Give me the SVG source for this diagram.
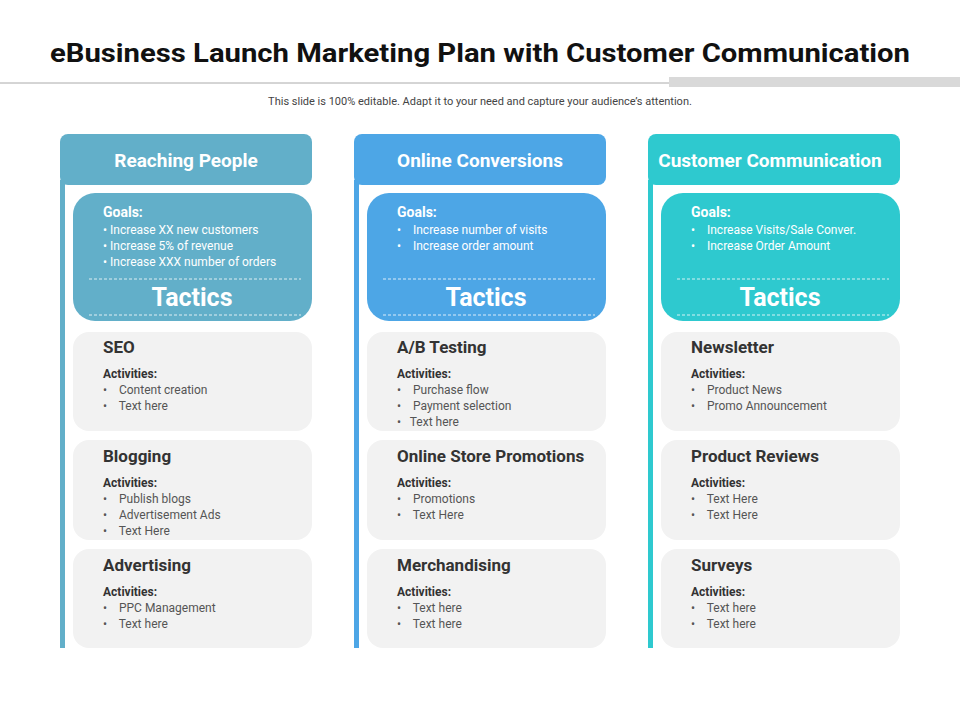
<svg xmlns="http://www.w3.org/2000/svg" width="960" height="720" viewBox="0 0 960 720">
<style>
text{white-space:pre}
.hd{font:bold 19px Roboto,sans-serif;fill:#fff;text-anchor:middle}
.gl{font:bold 14px Roboto,sans-serif;fill:#fff}
.gi{font:12px Roboto,sans-serif;fill:#fff}
.tc{font:bold 25px Roboto,sans-serif;fill:#fff;text-anchor:middle}
.ct{font:bold 17px Roboto,sans-serif;fill:#333}
.ca{font:bold 12px Roboto,sans-serif;fill:#333}
.ci{font:12px Roboto,sans-serif;fill:#555}
.card{fill:#f2f2f2}
.dash{stroke:#fff;stroke-width:0.8;stroke-dasharray:3 2}
</style>
<rect width="960" height="720" fill="#fff"/>
<text x="50" y="62" textLength="860" lengthAdjust="spacingAndGlyphs" style="font:bold 25px Roboto,sans-serif;fill:#111">eBusiness Launch Marketing Plan with Customer Communication</text>
<line x1="0" y1="83" x2="670" y2="83" stroke="#aaa" stroke-width="1"/>
<rect x="669" y="77" width="291" height="10" fill="#d9d9d9"/>
<text x="480" y="105" text-anchor="middle" style="font:11px Roboto,sans-serif;fill:#444">This slide is 100% editable. Adapt it to your need and capture your audience’s attention.</text>

<g id="col1">
<rect x="60" y="134" width="252" height="51" rx="8" fill="#62afc9"/>
<rect x="60" y="180" width="5" height="468" fill="#62afc9"/>
<text class="hd" x="186" y="167">Reaching People</text>
<rect x="73" y="193" width="239" height="128" rx="22" fill="#62afc9"/>
<text class="gl" x="103" y="217">Goals:</text>
<text class="gi" x="103" y="234">• Increase XX new customers</text>
<text class="gi" x="103" y="250">• Increase 5% of revenue</text>
<text class="gi" x="103" y="266">• Increase XXX number of orders</text>
<line class="dash" x1="89" y1="279" x2="301" y2="279"/>
<text class="tc" x="192" y="306">Tactics</text>
<line class="dash" x1="89" y1="315" x2="301" y2="315"/>
<rect class="card" x="73" y="332" width="239" height="99" rx="16"/>
<text class="ct" x="103" y="353">SEO</text><text class="ca" x="103" y="378">Activities:</text>
<text class="ci" x="103" y="394">•    Content creation</text><text class="ci" x="103" y="410">•    Text here</text>
<rect class="card" x="73" y="440" width="239" height="100" rx="16"/>
<text class="ct" x="103" y="462">Blogging</text><text class="ca" x="103" y="487">Activities:</text>
<text class="ci" x="103" y="503">•    Publish blogs</text><text class="ci" x="103" y="519">•    Advertisement Ads</text><text class="ci" x="103" y="535">•    Text Here</text>
<rect class="card" x="73" y="549" width="239" height="99" rx="16"/>
<text class="ct" x="103" y="571">Advertising</text><text class="ca" x="103" y="596">Activities:</text>
<text class="ci" x="103" y="612">•    PPC Management</text><text class="ci" x="103" y="628">•    Text here</text>
</g>

<g id="col2">
<rect x="354" y="134" width="252" height="51" rx="8" fill="#4da6e6"/>
<rect x="354" y="180" width="5" height="468" fill="#4da6e6"/>
<text class="hd" x="480" y="167">Online Conversions</text>
<rect x="367" y="193" width="239" height="128" rx="22" fill="#4da6e6"/>
<text class="gl" x="397" y="217">Goals:</text>
<text class="gi" x="397" y="234">•    Increase number of visits</text>
<text class="gi" x="397" y="250">•    Increase order amount</text>
<line class="dash" x1="383" y1="279" x2="595" y2="279"/>
<text class="tc" x="486" y="306">Tactics</text>
<line class="dash" x1="383" y1="315" x2="595" y2="315"/>
<rect class="card" x="367" y="332" width="239" height="99" rx="16"/>
<text class="ct" x="397" y="353">A/B Testing</text><text class="ca" x="397" y="378">Activities:</text>
<text class="ci" x="397" y="394">•    Purchase flow</text><text class="ci" x="397" y="410">•    Payment selection</text><text class="ci" x="397" y="426">•   Text here</text>
<rect class="card" x="367" y="440" width="239" height="100" rx="16"/>
<text class="ct" x="397" y="462">Online Store Promotions</text><text class="ca" x="397" y="487">Activities:</text>
<text class="ci" x="397" y="503">•    Promotions</text><text class="ci" x="397" y="519">•    Text Here</text>
<rect class="card" x="367" y="549" width="239" height="99" rx="16"/>
<text class="ct" x="397" y="571">Merchandising</text><text class="ca" x="397" y="596">Activities:</text>
<text class="ci" x="397" y="612">•    Text here</text><text class="ci" x="397" y="628">•    Text here</text>
</g>

<g id="col3">
<rect x="648" y="134" width="252" height="51" rx="8" fill="#2ec9cf"/>
<rect x="648" y="180" width="5" height="468" fill="#2ec9cf"/>
<text class="hd" x="770" y="167">Customer Communication</text>
<rect x="661" y="193" width="239" height="128" rx="22" fill="#2ec9cf"/>
<text class="gl" x="691" y="217">Goals:</text>
<text class="gi" x="691" y="234">•    Increase Visits/Sale Conver.</text>
<text class="gi" x="691" y="250">•    Increase Order Amount</text>
<line class="dash" x1="677" y1="279" x2="889" y2="279"/>
<text class="tc" x="780" y="306">Tactics</text>
<line class="dash" x1="677" y1="315" x2="889" y2="315"/>
<rect class="card" x="661" y="332" width="239" height="99" rx="16"/>
<text class="ct" x="691" y="353">Newsletter</text><text class="ca" x="691" y="378">Activities:</text>
<text class="ci" x="691" y="394">•    Product News</text><text class="ci" x="691" y="410">•    Promo Announcement</text>
<rect class="card" x="661" y="440" width="239" height="100" rx="16"/>
<text class="ct" x="691" y="462">Product Reviews</text><text class="ca" x="691" y="487">Activities:</text>
<text class="ci" x="691" y="503">•    Text Here</text><text class="ci" x="691" y="519">•    Text Here</text>
<rect class="card" x="661" y="549" width="239" height="99" rx="16"/>
<text class="ct" x="691" y="571">Surveys</text><text class="ca" x="691" y="596">Activities:</text>
<text class="ci" x="691" y="612">•    Text here</text><text class="ci" x="691" y="628">•    Text here</text>
</g>
<g id="connectors"/>
</svg>
